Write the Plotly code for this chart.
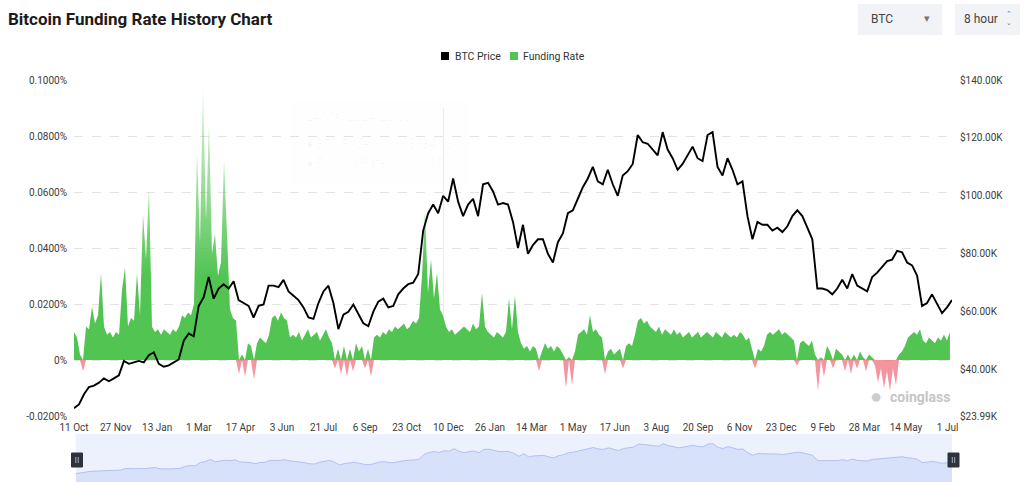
import numpy as np
import plotly.graph_objects as go

# ---------------- data ----------------
x_tick_labels = ["11 Oct", "27 Nov", "13 Jan", "1 Mar", "17 Apr", "3 Jun", "21 Jul",
                 "6 Sep", "23 Oct", "10 Dec", "26 Jan", "14 Mar", "1 May", "17 Jun",
                 "3 Aug", "20 Sep", "6 Nov", "23 Dec", "9 Feb", "28 Mar", "14 May", "1 Jul"]
TICK_STEP_DAYS = 47
PRICE_SPAN_DAYS = 992
FUNDING_SPAN_DAYS = 989.7

# BTC price in thousands of USD (evenly spaced over the period)
btc_price_k = [
    26.7, 28.0, 31.5, 34.0, 34.5, 35.5, 37.0, 36.0, 37.0, 38.0,
    43.0, 42.0, 42.5, 43.0, 42.5, 45.0, 46.0, 42.0, 41.0, 41.5,
    42.5, 43.5, 50.0, 52.5, 51.5, 62.0, 65.0, 72.0, 64.5, 68.0,
    69.5, 68.0, 70.5, 64.0, 63.0, 62.0, 58.0, 62.0, 62.5, 69.0,
    69.0, 68.5, 71.0, 67.0, 65.5, 64.0, 61.5, 58.0, 57.5, 63.0,
    67.0, 69.0, 63.0, 54.0, 59.0, 60.0, 62.5, 59.5, 56.0, 55.0,
    60.0, 63.5, 64.5, 61.5, 62.0, 66.0, 68.0, 69.5, 70.0, 73.0,
    88.0, 94.0, 97.0, 94.0, 100.0, 98.0, 106.0, 98.0, 93.0, 97.0,
    99.0, 93.0, 104.0, 104.5, 101.5, 97.0, 97.5, 97.0, 91.0, 82.0,
    90.0, 80.0, 83.0, 85.0, 85.0, 80.0, 77.0, 84.0, 87.0, 94.0,
    95.0, 99.0, 103.0, 106.0, 110.0, 105.0, 104.0, 109.0, 104.0, 100.0,
    107.0, 108.5, 111.0, 121.0, 118.5, 118.0, 116.0, 114.0, 122.0, 116.0,
    113.0, 109.0, 111.0, 114.0, 117.0, 113.0, 112.0, 121.0, 122.0, 110.0,
    107.0, 113.0, 109.0, 104.0, 105.0, 93.0, 85.0, 91.0, 90.0, 90.0,
    88.0, 89.0, 87.5, 89.5, 93.0, 95.0, 93.0, 89.0, 85.0, 68.0,
    68.0, 67.5, 66.0, 68.0, 71.0, 68.0, 73.0, 69.0, 68.0, 67.0,
    72.0, 73.5, 75.5, 77.5, 78.0, 81.0, 80.5, 77.0, 76.0, 72.5,
    62.0, 63.0, 66.0, 63.0, 59.5, 61.5, 64.0,
]

# Funding rate in percent (evenly spaced over the period)
funding_rate_pct = [
    0.010, 0.008, 0.002, -0.004, 0.012, 0.011, 0.019, 0.013, 0.016, 0.031,
    0.012, 0.009, 0.010, 0.008, 0.010, 0.009, 0.025, 0.033, 0.012, 0.015,
    0.014, 0.031, 0.016, 0.052, 0.036, 0.061, 0.012, 0.010, 0.011, 0.009,
    0.011, 0.010, 0.009, 0.011, 0.010, 0.012, 0.016, 0.015, 0.017, 0.016,
    0.020, 0.074, 0.042, 0.097, 0.050, 0.084, 0.038, 0.045, 0.030, 0.035,
    0.071, 0.045, 0.018, 0.015, 0.014, -0.005, 0.002, -0.006, 0.006, 0.005,
    -0.007, 0.006, 0.008, 0.007, 0.006, 0.009, 0.015, 0.016, 0.014, 0.017,
    0.015, 0.014, 0.008, 0.009, 0.008, 0.010, 0.007, 0.009, 0.011, 0.008,
    0.009, 0.010, 0.007, 0.009, 0.011, 0.008, 0.006, -0.003, 0.004, -0.005,
    0.005, -0.006, 0.004, -0.004, 0.006, 0.003, 0.005, -0.003, 0.004, -0.006,
    0.008, 0.009, 0.008, 0.010, 0.009, 0.011, 0.010, 0.012, 0.011, 0.012,
    0.013, 0.011, 0.012, 0.014, 0.013, 0.015, 0.030, 0.053, 0.024, 0.036,
    0.022, 0.031, 0.018, 0.016, 0.012, 0.010, 0.011, 0.009, 0.010, 0.011,
    0.012, 0.011, 0.010, 0.013, 0.011, 0.012, 0.024, 0.012, 0.010, 0.009,
    0.008, 0.010, 0.009, 0.008, 0.010, 0.022, 0.011, 0.023, 0.010, 0.006,
    0.004, 0.005, 0.003, 0.005, 0.004, -0.004, 0.003, 0.006, 0.004, 0.005,
    0.003, 0.005, 0.004, 0.002, -0.010, 0.001, -0.009, 0.003, 0.009, 0.010,
    0.011, 0.009, 0.016, 0.010, 0.011, 0.009, 0.008, -0.005, 0.003, 0.004,
    0.002, 0.003, 0.004, -0.003, 0.005, 0.006, 0.005, 0.009, 0.014, 0.015,
    0.013, 0.014, 0.012, 0.011, 0.010, 0.012, 0.009, 0.011, 0.010, 0.009,
    0.011, 0.009, 0.010, 0.008, 0.009, 0.010, 0.008, 0.009, 0.010, 0.008,
    0.009, 0.010, 0.009, 0.008, 0.010, 0.009, 0.008, 0.010, 0.009, 0.008,
    0.009, 0.008, 0.010, 0.009, 0.007, 0.008, 0.004, -0.003, 0.004, 0.003,
    0.005, 0.009, 0.010, 0.009, 0.010, 0.011, 0.009, 0.010, 0.009, 0.008,
    0.007, -0.002, 0.006, 0.007, 0.006, 0.005, 0.007, 0.002, -0.011, 0.001,
    -0.006, 0.005, 0.003, -0.003, 0.004, 0.003, 0.002, -0.004, 0.002, -0.005,
    0.002, -0.003, 0.003, 0.001, -0.004, 0.002, 0.001, -0.002, -0.008, -0.003,
    -0.010, -0.004, -0.011, -0.003, -0.009, 0.002, 0.003, 0.005, 0.008, 0.009,
    0.010, 0.009, 0.011, 0.007, 0.006, 0.008, 0.007, 0.006, 0.008, 0.007,
    0.009, 0.007, 0.010,
]

left_tick_vals = [-0.02, 0, 0.02, 0.04, 0.06, 0.08, 0.1]
left_tick_text = ["-0.0200%", "0%", "0.0200%", "0.0400%", "0.0600%", "0.0800%", "0.1000%"]
right_tick_vals = [23.99, 40, 60, 80, 100, 120, 140]
right_tick_text = ["$23.99K", "$40.00K", "$60.00K", "$80.00K", "$100.00K", "$120.00K", "$140.00K"]
legend_names = ["BTC Price", "Funding Rate"]

# ---------------- derived ----------------
price_x = np.linspace(0, PRICE_SPAN_DAYS, len(btc_price_k))
fund_x = np.linspace(0, FUNDING_SPAN_DAYS, len(funding_rate_pct))
fr = np.array(funding_rate_pct)
fr_pos = np.where(fr > 0, fr, 0.0)
fr_neg = np.where(fr < 0, fr, 0.0)
tick_vals = [i * TICK_STEP_DAYS for i in range(len(x_tick_labels))]

W, H = 1024, 482
ML, MR, MT, MB = 74, 72, 80, 0
PW, PH = W - ML - MR, H - MT - MB


def px_x(px):
    return (px - ML) / PW


def px_y(py):
    return (H - MB - py) / PH


GREEN = "rgb(82,196,82)"
RED = "rgba(240,112,126,0.75)"
FONT = "Roboto"
TICK_COLOR = "#3c3c3c"

fig = go.Figure()

fig.add_trace(go.Scatter(
    x=fund_x, y=fr_pos, mode="lines", line=dict(width=0, color=GREEN),
    fill="tozeroy",
    fillgradient=dict(type="vertical", start=0, stop=0.1,
                      colorscale=[[0, "rgba(82,196,82,1)"], [0.3, "rgba(82,196,82,1)"],
                                  [0.6, "rgba(82,196,82,0.6)"], [1, "rgba(82,196,82,0.2)"]]),
    showlegend=False, name="Funding Rate", xaxis="x", yaxis="y", hoverinfo="skip"))
fig.add_trace(go.Scatter(
    x=fund_x, y=fr_neg, mode="lines", line=dict(width=0, color=RED),
    fill="tozeroy", fillcolor=RED, showlegend=False, name="Funding Rate (negative)",
    xaxis="x", yaxis="y", hoverinfo="skip"))
fig.add_trace(go.Scatter(x=price_x, y=btc_price_k, mode="lines", line=dict(width=1.9, color="#000000"),
                         showlegend=False, name="BTC Price", xaxis="x", yaxis="y2", hoverinfo="skip"))

# navigator
fig.add_trace(go.Scatter(x=price_x, y=btc_price_k, mode="lines", line=dict(width=1, color="rgb(176,192,242)"),
                         fill="tozeroy", fillcolor="rgb(216,225,250)", showlegend=False,
                         xaxis="x2", yaxis="y3", hoverinfo="skip"))

main_bottom = px_y(416)
nav_top = px_y(434)

fig.update_layout(
    width=W, height=H, margin=dict(l=ML, r=MR, t=MT, b=MB, autoexpand=False),
    paper_bgcolor="white", plot_bgcolor="white", showlegend=False,
    font=dict(family=FONT, size=10, color=TICK_COLOR),
    title=dict(text="<b>Bitcoin Funding Rate History Chart</b>", x=8 / W, xref="container", xanchor="left",
               y=1 - 19 / H, yref="container", yanchor="middle",
               font=dict(family=FONT, size=17, color="#1b1b1b")),
    xaxis=dict(domain=[0, 1], range=[0, PRICE_SPAN_DAYS], anchor="y", tickmode="array",
               tickvals=tick_vals, ticktext=x_tick_labels, showgrid=False, zeroline=False,
               showline=False, ticks="", tickfont=dict(size=10, color=TICK_COLOR), ticklabelstandoff=4),
    yaxis=dict(domain=[main_bottom, 1], range=[-0.02, 0.1], tickmode="array", tickvals=left_tick_vals,
               ticktext=left_tick_text, showgrid=True, gridcolor="#e3e3e3", griddash="dash", gridwidth=1,
               zeroline=False, showline=False, ticks="", tickfont=dict(size=10, color=TICK_COLOR),
               ticklabelstandoff=6),
    yaxis2=dict(overlaying="y", side="right", range=[23.99, 140], tickmode="array",
                tickvals=right_tick_vals, ticktext=right_tick_text, showgrid=False, zeroline=False,
                showline=False, ticks="outside", ticklen=5, tickcolor="rgba(0,0,0,0)",
                tickfont=dict(size=10, color=TICK_COLOR)),
    xaxis2=dict(domain=[0.002, 1.0], range=[0, PRICE_SPAN_DAYS], anchor="y3", visible=False),
    yaxis3=dict(domain=[0, nav_top], range=[0, 153], visible=False, fixedrange=True),
)

shapes = []
# navigator background
shapes.append(dict(type="rect", xref="x2 domain", yref="y3 domain", x0=0, x1=1, y0=0, y1=1,
                   fillcolor="rgb(237,241,253)", line=dict(width=0), layer="below"))
# navigator handles
for cx in (77, 953.5):
    shapes.append(dict(type="rect", xref="paper", yref="paper",
                       x0=px_x(cx - 5.5), x1=px_x(cx + 5.5), y0=px_y(467), y1=px_y(453),
                       fillcolor="#2e323d", line=dict(width=1, color="#2e323d")))
    for dx in (-1.2, 1.2):
        shapes.append(dict(type="line", xref="paper", yref="paper",
                           x0=px_x(cx + dx), x1=px_x(cx + dx), y0=px_y(463), y1=px_y(457),
                           line=dict(width=0.8, color="#c8ccd6")))
# dropdown boxes
shapes.append(dict(type="rect", xref="paper", yref="paper", x0=px_x(858), x1=px_x(942),
                   y0=px_y(35), y1=px_y(4), fillcolor="#f1f3f6", line=dict(width=0)))
shapes.append(dict(type="rect", xref="paper", yref="paper", x0=px_x(955), x1=px_x(1020),
                   y0=px_y(35), y1=px_y(4), fillcolor="#f1f3f6", line=dict(width=0)))
# faint tooltip remnant
shapes.append(dict(type="rect", xref="paper", yref="paper", x0=px_x(291), x1=px_x(470),
                   y0=px_y(186), y1=px_y(100), fillcolor="rgba(0,0,0,0.005)", line=dict(width=0)))
shapes.append(dict(type="line", xref="paper", yref="paper", x0=px_x(443.5), x1=px_x(443.5),
                   y0=px_y(360), y1=px_y(108), line=dict(width=1, color="rgba(82,196,82,0.18)")))
# legend squares
for sx, col in ((441, "#000000"), (510, GREEN)):
    shapes.append(dict(type="rect", xref="paper", yref="paper", x0=px_x(sx), x1=px_x(sx + 8),
                       y0=px_y(60), y1=px_y(52), fillcolor=col, line=dict(width=0)))
fig.update_layout(shapes=shapes)

ann = []
# legend text
for tx, name in zip((453, 521), legend_names):
    ann.append(dict(text=name, xref="paper", yref="paper", x=px_x(tx), y=px_y(56), xanchor="left",
                    yanchor="middle", showarrow=False, font=dict(size=10.5, color="#333333")))
ann.append(dict(text="BTC", xref="paper", yref="paper", x=px_x(869), y=px_y(19), xanchor="left",
                yanchor="middle", showarrow=False, font=dict(size=12, color="#444444")))
ann.append(dict(text="▾", xref="paper", yref="paper", x=px_x(927), y=px_y(19), xanchor="center",
                yanchor="middle", showarrow=False, font=dict(size=11, color="#777777")))
ann.append(dict(text="8 hour", xref="paper", yref="paper", x=px_x(962), y=px_y(19), xanchor="left",
                yanchor="middle", showarrow=False, font=dict(size=12, color="#444444")))
ann.append(dict(text="⌃<br>⌄", xref="paper", yref="paper", x=px_x(1009), y=px_y(19), xanchor="center",
                yanchor="middle", showarrow=False, font=dict(size=7, color="#777777")))
# watermark
ann.append(dict(text="<b>coinglass</b>", xref="paper", yref="paper", x=px_x(952), y=px_y(397),
                xanchor="right", yanchor="middle", showarrow=False,
                font=dict(size=14, color="#c6c6c6")))
ann.append(dict(text="●", xref="paper", yref="paper", x=px_x(876), y=px_y(396),
                xanchor="center", yanchor="middle", showarrow=False,
                font=dict(size=20, color="#cdcdcd")))
# faint tooltip text
faint = "rgba(0,0,0,0.03)"
ann.append(dict(text="24 May 2024, 20:00", xref="paper", yref="paper", x=px_x(304), y=px_y(117),
                xanchor="left", yanchor="middle", showarrow=False, font=dict(size=12, color=faint)))
ann.append(dict(text="● BTC Price", xref="paper", yref="paper", x=px_x(304), y=px_y(144),
                xanchor="left", yanchor="middle", showarrow=False, font=dict(size=12, color=faint)))
ann.append(dict(text="$68584.10", xref="paper", yref="paper", x=px_x(454), y=px_y(144),
                xanchor="right", yanchor="middle", showarrow=False, font=dict(size=12, color=faint)))
ann.append(dict(text="● Funding Rate", xref="paper", yref="paper", x=px_x(304), y=px_y(163),
                xanchor="left", yanchor="middle", showarrow=False, font=dict(size=12, color=faint)))
ann.append(dict(text="0.0095%", xref="paper", yref="paper", x=px_x(454), y=px_y(163),
                xanchor="right", yanchor="middle", showarrow=False, font=dict(size=12, color=faint)))
fig.update_layout(annotations=ann)

fig.write_html("out.html")
